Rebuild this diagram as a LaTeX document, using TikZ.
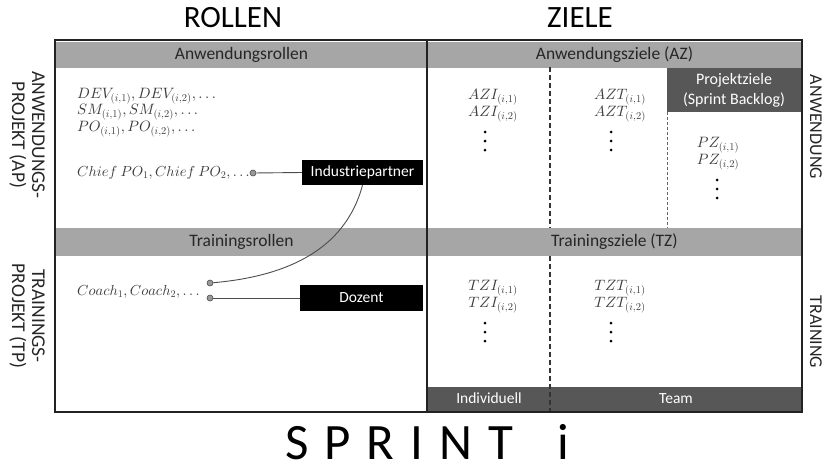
\documentclass[tikz,border=0pt]{standalone}
\usepackage{fontspec}
\setmainfont{Carlito}
\DeclareFontShape{OML}{cmm}{m}{it}{<->cmmi10}{}
\DeclareFontShape{OMS}{cmsy}{m}{n}{<->cmsy10}{}
\DeclareFontShape{OT1}{cmr}{m}{n}{<->cmr10}{}
\definecolor{barlight}{HTML}{A6A6A6}
\definecolor{bardark}{HTML}{575757}
\definecolor{framec}{HTML}{222222}
\definecolor{txtc}{HTML}{262626}
\definecolor{mathc}{HTML}{3C3C3C}
\begin{document}
\begin{tikzpicture}[x=1pt,y=-1pt,
  lightbar/.style={fill=barlight,draw=none,inner sep=0pt,text=txtc,font=\fontsize{17.5}{17.5}\selectfont},
  darkbar/.style={fill=bardark,draw=none,inner sep=0pt,text=white,font=\fontsize{15.5}{20}\selectfont,align=center},
  blackbox/.style={fill=black,draw=none,inner sep=0pt,text=white,font=\fontsize{15.5}{15.5}\selectfont},
  mtxt/.style={text=mathc,font=\fontsize{15}{16.5}\selectfont,inner sep=0pt},
  vdt/.style={circle,fill=black,draw=none,minimum size=3pt,inner sep=0pt},
  sidelbl/.style={text=txtc,font=\fontsize{19.5}{20}\selectfont,rotate=-90,align=center,inner sep=0pt},
  sidelblr/.style={text=txtc,font=\fontsize{18}{19}\selectfont,rotate=-90,inner sep=0pt},
  toplbl/.style={text=black,font=\fontsize{31}{31}\selectfont,inner sep=0pt},
  dotc/.style={circle,fill=gray!80,draw=black!70,line width=0.6pt,minimum size=6pt,inner sep=0pt},
  conn/.style={draw=black!70,line width=0.9pt}
]
\useasboundingbox (0,0) rectangle (828,472);
% top labels
\node[toplbl] (rollen) at (233,18) {ROLLEN};
\node[toplbl] (ziele) at (580,18) {ZIELE};
% side labels
\node[sidelbl] (ap) at (27,135) {ANWENDUNGS-\\PROJEKT (AP)};
\node[sidelbl] (tp) at (27,316) {TRAININGS-\\PROJEKT (TP)};
\node[sidelblr] (anw) at (816,127) {ANWENDUNG};
\node[sidelblr] (trn) at (816,332) {TRAINING};
% header bars
\node[lightbar,minimum width=372pt,minimum height=26pt] (ar) at (241.5,54.5) {Anwendungsrollen};
\node[lightbar,minimum width=374pt,minimum height=26pt] (az) at (614.5,54.5) {Anwendungsziele (AZ)};
\node[lightbar,minimum width=372pt,minimum height=28pt] (tr) at (241.5,242) {Trainingsrollen};
\node[lightbar,minimum width=374pt,minimum height=28pt] (tz) at (614.5,242) {Trainingsziele (TZ)};
% project goals box
\node[darkbar,font=\fontsize{16}{20}\selectfont,minimum width=134pt,minimum height=44pt] (pz) at (734,90) {Projektziele\\(Sprint Backlog)};
% bottom bars
\node[darkbar,minimum width=122pt,minimum height=24pt] (ind) at (489,398.5) {Individuell};
\node[darkbar,minimum width=252pt,minimum height=24pt] (team) at (676,398.5) {Team};
% dashed dividers
\coordinate (d1a) at (550,67);
\coordinate (d1b) at (550,228);
\coordinate (d1c) at (550,256);
\coordinate (d1d) at (550,411);
\draw[black!80,line width=1.2pt,dash pattern=on 5pt off 3pt] (d1a) -- (d1b);
\draw[black!80,line width=1.2pt,dash pattern=on 5pt off 3pt] (d1c) -- (d1d);
\coordinate (d2a) at (667,112);
\coordinate (d2b) at (667,228);
\draw[black!60,line width=0.9pt,dash pattern=on 2.5pt off 2.5pt] (d2a) -- (d2b);
% frame
\draw[framec,line width=2.5pt] (55,40) rectangle (802,412);
\draw[framec,line width=2pt] (427,40) -- (427,412);
% left roles
\node[mtxt,anchor=north west,align=left] (roles) at (77,88) {$DEV_{(i,1)}, DEV_{(i,2)}, \ldots$\\$SM_{(i,1)}, SM_{(i,2)}, \ldots$\\$PO_{(i,1)}, PO_{(i,2)}, \ldots$};
\node[mtxt,font=\fontsize{14.5}{16}\selectfont,anchor=west] (chief) at (77,173) {$Chief\ PO_1, Chief\ PO_2, \ldots$};
\node[mtxt,font=\fontsize{14.5}{16}\selectfont,anchor=west] (coach) at (77,292) {$Coach_1, Coach_2, \ldots$};
\node[blackbox,minimum width=121pt,minimum height=25pt] (ip) at (362.5,172.5) {Industriepartner};
\node[blackbox,minimum width=123pt,minimum height=26pt] (doz) at (361.5,297.5) {Dozent};
\node[dotc] (cdot) at (253,173) {};
\node[dotc] (k1) at (210,283) {};
\node[dotc] (k2) at (210,298) {};
\draw[conn] (cdot) -- (ip.west);
\draw[conn] (k2) -- (k2 -| doz.west);
\draw[conn] (ip.south) to[out=-105,in=5] (k1);
% goals
\node[mtxt] (azi1) at (493,97) {$AZI_{(i,1)}$};
\node[mtxt] (azi2) at (493,114) {$AZI_{(i,2)}$};
\node[mtxt] (azt1) at (620,97) {$AZT_{(i,1)}$};
\node[mtxt] (azt2) at (620,114) {$AZT_{(i,2)}$};
\node[mtxt] (pz1) at (718,145) {$PZ_{(i,1)}$};
\node[mtxt] (pz2) at (718,162) {$PZ_{(i,2)}$};
\node[mtxt] (tzi1) at (493,288) {$TZI_{(i,1)}$};
\node[mtxt] (tzi2) at (493,305) {$TZI_{(i,2)}$};
\node[mtxt] (tzt1) at (620,288) {$TZT_{(i,1)}$};
\node[mtxt] (tzt2) at (620,305) {$TZT_{(i,2)}$};
% vertical ellipses
\foreach \nm/\xx/\yy in {azid/485/141, aztd/611/141, pzd/717/189, tzid/485/332, tztd/611/332}{
  \node[vdt] (\nm a) at (\xx,\yy-9) {};
  \node[vdt] (\nm b) at (\xx,\yy) {};
  \node[vdt] (\nm c) at (\xx,\yy+9) {};
}
% sprint
\node[text=black,font=\fontsize{51}{51}\selectfont,inner sep=0pt,anchor=west] (sprint) at (285,442) {S\hspace{16pt}P\hspace{16pt}R\hspace{16pt}I\hspace{16pt}N\hspace{16pt}T\hspace{44pt}i};
\end{tikzpicture}
\end{document}
